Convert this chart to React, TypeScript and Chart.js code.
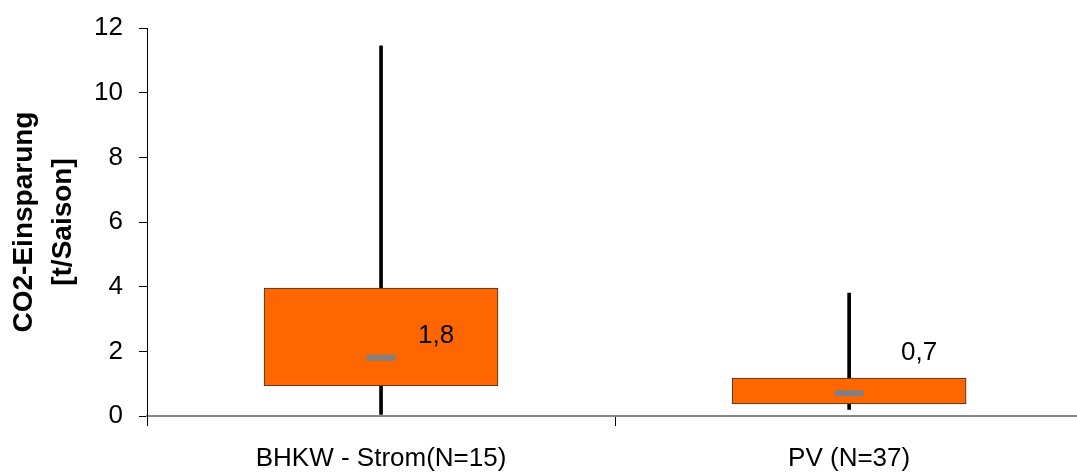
import React, { useEffect, useRef } from "react";
import { Chart, registerables } from "chart.js";

Chart.register(...registerables);

const categories = ["BHKW - Strom(N=15)", "PV (N=37)"];
const q1Values = [0.93, 0.37];
const q3Values = [3.96, 1.17];
const medianValues = [1.8, 0.7];
const minValues = [0.05, 0.2];
const maxValues = [11.45, 3.8];
const medianLabels = ["1,8", "0,7"];
const yTicks = [0, 2, 4, 6, 8, 10, 12];

const FONT = "'Liberation Sans', Arial, sans-serif";
const LABEL_OFFSETS = [
  { dx: 55, dy: -22 },
  { dx: 70, dy: -41 },
];

const medianLabelPlugin = {
  id: "medianLabels",
  afterDatasetsDraw(chart: any) {
    const { ctx, scales } = chart;
    ctx.save();
    ctx.font = `26px ${FONT}`;
    ctx.fillStyle = "#000";
    ctx.textAlign = "center";
    ctx.textBaseline = "middle";
    medianLabels.forEach((t, i) => {
      const x = scales.x.getPixelForValue(i) + LABEL_OFFSETS[i].dx;
      const y = scales.y.getPixelForValue(medianValues[i]) + LABEL_OFFSETS[i].dy;
      ctx.fillText(t, x, y);
    });
    ctx.restore();
  },
  afterDraw(chart: any) {
    const { ctx, chartArea } = chart;
    ctx.save();
    ctx.strokeStyle = "#888888";
    ctx.lineWidth = 2;
    ctx.beginPath();
    ctx.moveTo(chartArea.right - 1, chartArea.bottom);
    ctx.lineTo(chart.width, chartArea.bottom);
    ctx.stroke();
    ctx.restore();
  },
};

export default function App() {
  const ref = useRef<HTMLCanvasElement | null>(null);
  useEffect(() => {
    if (!ref.current) return;
    const chart = new Chart(ref.current, {
      type: "bar",
      data: {
        datasets: [
          {
            type: "line",
            label: "Median",
            data: medianValues.map((v, i) => ({ x: i, y: v })),
            showLine: false,
            pointStyle: "line",
            pointRadius: 14.5,
            pointHoverRadius: 14.5,
            pointBorderWidth: 6,
            pointBorderColor: "#808080",
            pointBackgroundColor: "#808080",
            order: 1,
          } as any,
          {
            type: "bar",
            label: "Box",
            data: q1Values.map((v, i) => ({ x: i, y: [v, q3Values[i]] })),
            backgroundColor: "#FF6600",
            borderColor: "#333333",
            borderWidth: 1,
            borderSkipped: false,
            barThickness: 234,
            grouped: false,
            order: 2,
          } as any,
          {
            type: "bar",
            label: "Whisker",
            data: minValues.map((v, i) => ({ x: i, y: [v, maxValues[i]] })),
            backgroundColor: "#000000",
            borderWidth: 0,
            barThickness: 3,
            grouped: false,
            order: 3,
          } as any,
        ],
      },
      options: {
        animation: false,
        responsive: false,
        maintainAspectRatio: false,
        devicePixelRatio: 1,
        layout: { padding: { top: 28, left: 0, right: 0, bottom: 2 } },
        plugins: {
          legend: { display: false },
          tooltip: { enabled: false },
        },
        scales: {
          x: {
            type: "linear",
            min: -0.5,
            max: 1.443,
            offset: false,
            afterBuildTicks: (scale: any) => {
              scale.ticks = [-0.5, 0, 0.5, 1].map((v) => ({ value: v }));
            },
            afterFit: (scale: any) => {
              scale.height = 55;
              scale.paddingLeft = 0;
              scale.paddingRight = 0;
            },
            ticks: {
              autoSkip: false,
              maxRotation: 0,
              padding: 20,
              color: "#000",
              font: { family: FONT, size: 26, lineHeight: 1 },
              callback: (v: any) => {
                const idx = categories.findIndex((_, i) => i === v);
                return idx >= 0 ? categories[idx] : "";
              },
            },
            grid: {
              offset: false,
              drawOnChartArea: false,
              drawTicks: true,
              tickLength: 10,
              color: (c: any) =>
                c.tick && Math.abs(c.tick.value % 1) === 0.5 ? "#000" : "rgba(0,0,0,0)",
            },
            border: { display: true, color: "#888888", width: 2 },
          },
          y: {
            min: 0,
            max: 12,
            afterBuildTicks: (scale: any) => {
              scale.ticks = yTicks.map((v) => ({ value: v }));
            },
            afterFit: (scale: any) => {
              scale.width = 147;
              scale.paddingTop = 0;
              scale.paddingBottom = 0;
            },
            ticks: {
              padding: 16,
              color: "#000",
              font: { family: FONT, size: 26 },
            },
            grid: {
              drawOnChartArea: false,
              drawTicks: true,
              tickLength: 8,
              color: "#000",
            },
            border: { display: true, color: "#000", width: 1 },
            title: {
              display: true,
              text: ["CO2-Einsparung", "[t/Saison]"],
              color: "#000",
              font: { family: FONT, size: 28, weight: "bold", lineHeight: 1.38 },
              padding: { top: 5, bottom: 0 },
            },
          },
        },
      },
      plugins: [medianLabelPlugin],
    } as any);
    return () => chart.destroy();
  }, []);
  return (
    <div style={{ position: "fixed", left: 0, top: 0, width: 1077, height: 473, background: "#fff" }}>
      <canvas ref={ref} width={1077} height={473} style={{ display: "block", width: 1077, height: 473 }} />
    </div>
  );
}
